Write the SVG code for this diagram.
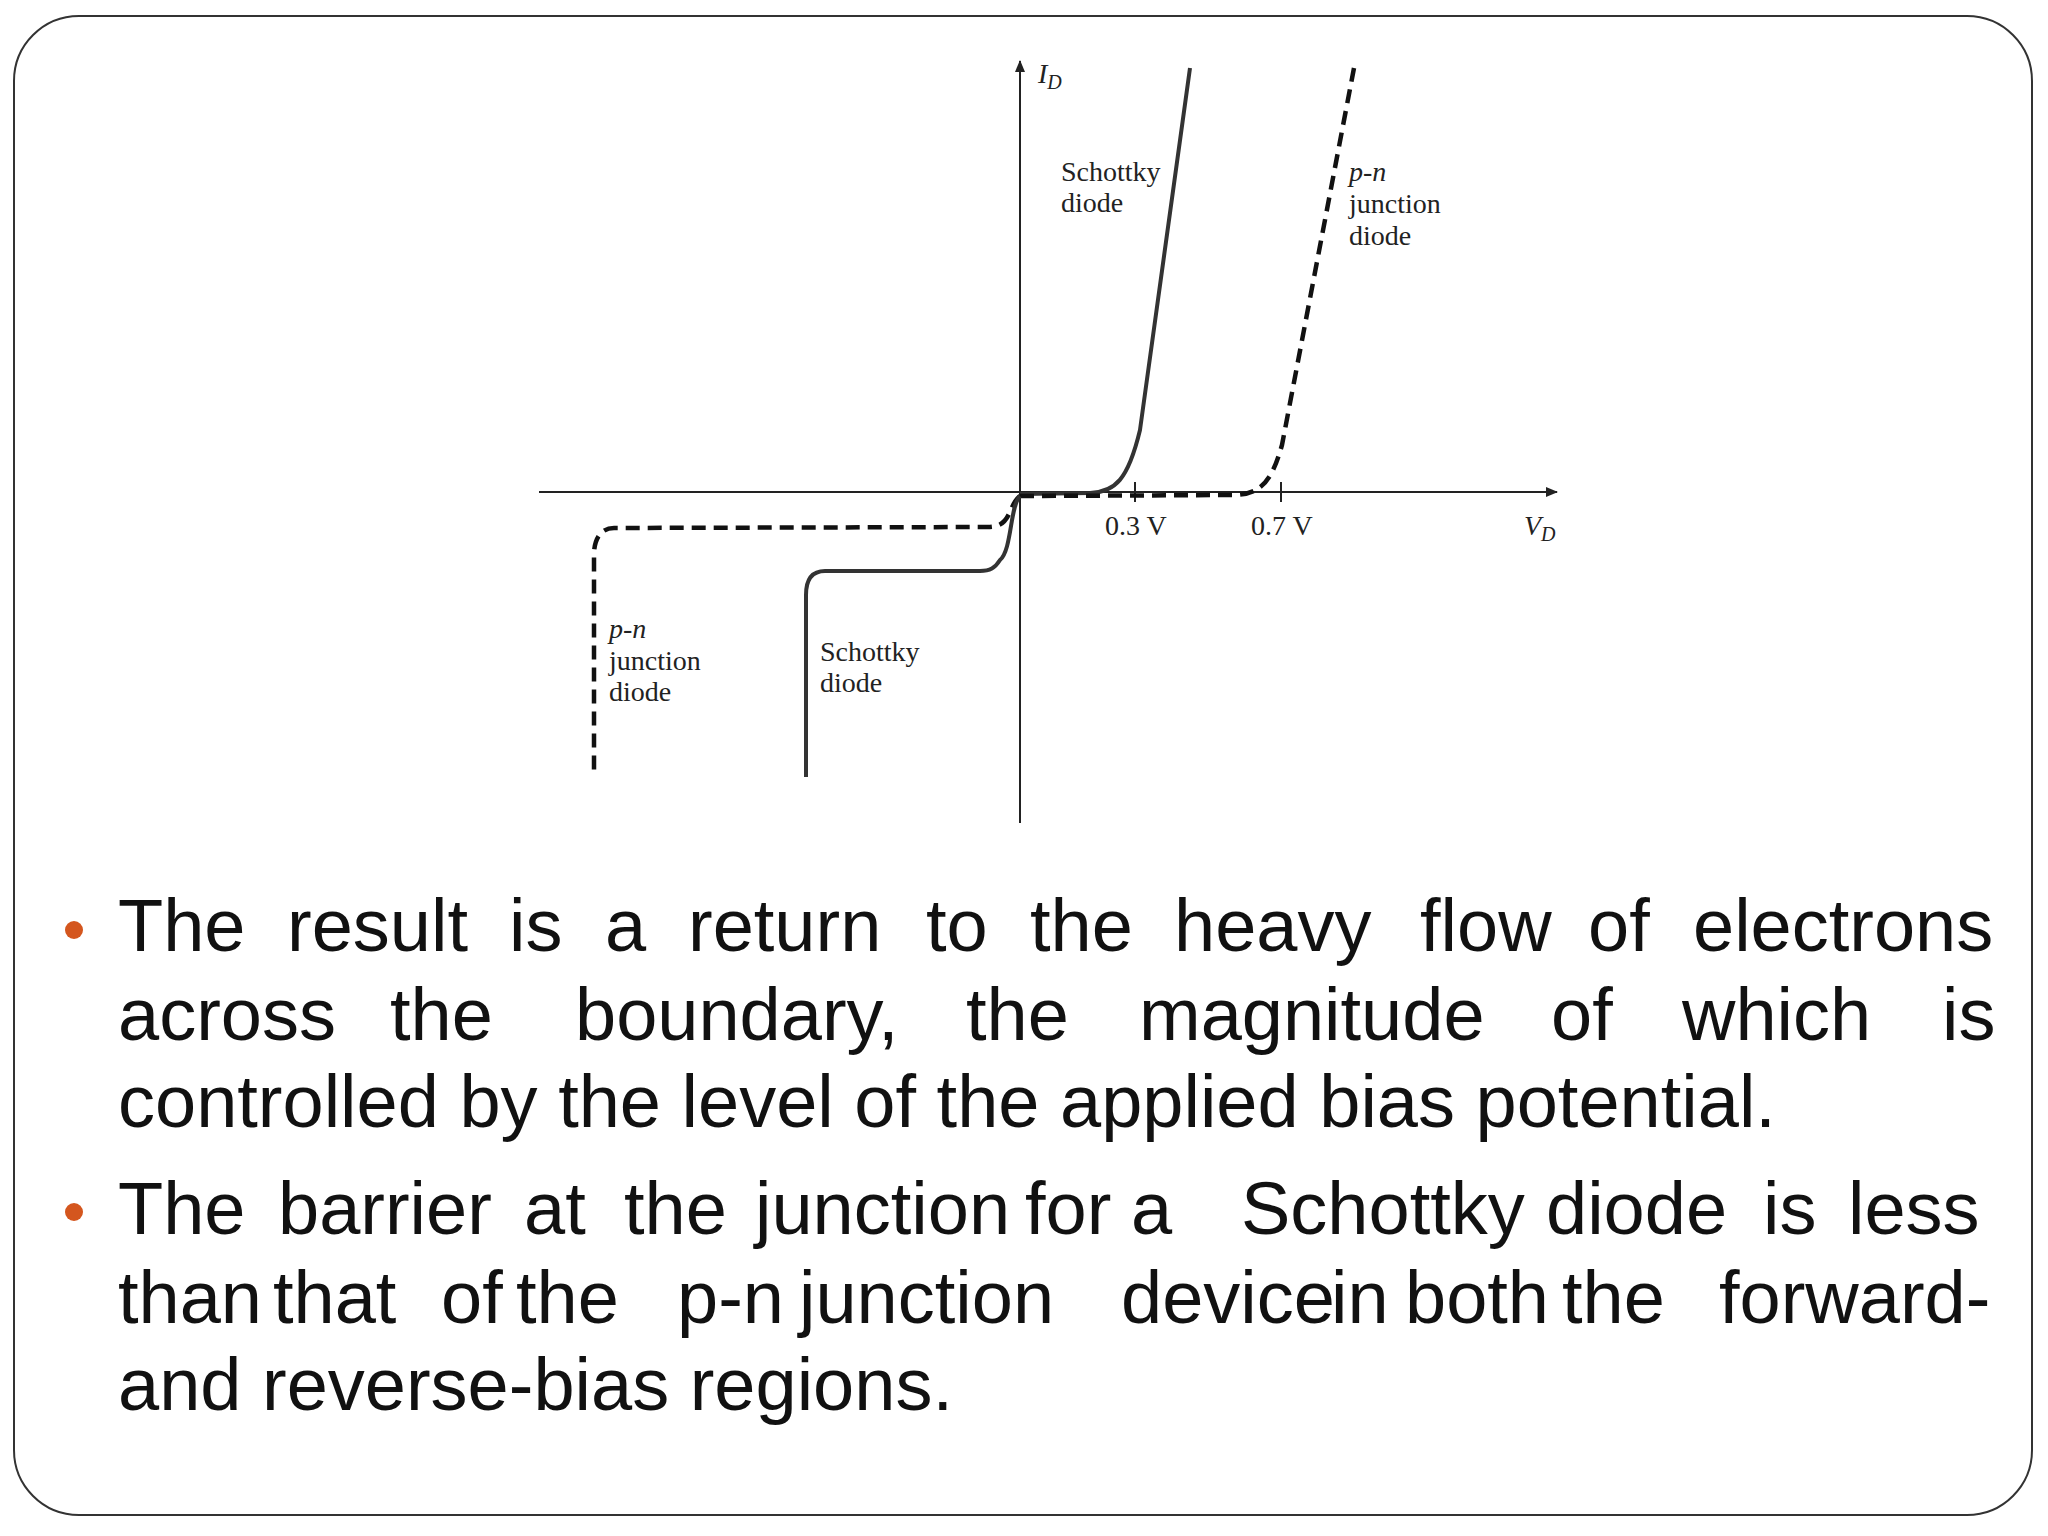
<svg xmlns="http://www.w3.org/2000/svg" width="2048" height="1536" viewBox="0 0 2048 1536">
<style>
.ax{stroke:#222;stroke-width:2;fill:none}
.cv{stroke:#333;stroke-width:4;fill:none}
.dc{stroke:#111;stroke-width:4.5;fill:none;stroke-dasharray:14 8}
.lb{font-family:"Liberation Serif",serif;font-size:28px;fill:#222}
.it{font-style:italic}
.bt{font-family:"Liberation Sans",Arial,sans-serif;font-size:74px;fill:#111}
</style>
<defs><marker id="ar" markerWidth="12" markerHeight="10" refX="11" refY="5" orient="auto" markerUnits="userSpaceOnUse"><path d="M0,0L12,5L0,10Z" fill="#222"/></marker></defs>
<rect x="14" y="16" width="2018" height="1499" rx="65" fill="#fff" stroke="#333" stroke-width="2"/>
<g id="axes">
<line class="ax" x1="1020" y1="823" x2="1020" y2="61" marker-end="url(#ar)"/>
<line class="ax" x1="539" y1="492" x2="1557" y2="492" marker-end="url(#ar)"/>
<line class="ax" x1="1135" y1="482" x2="1135" y2="502"/>
<line class="ax" x1="1281" y1="482" x2="1281" y2="502"/>
<text class="lb it" x="1038" y="83">I<tspan font-size="20" dy="6">D</tspan></text>
<text class="lb it" x="1524" y="535">V<tspan font-size="20" dy="6">D</tspan></text>
<text class="lb" x="1105" y="535">0.3 V</text>
<text class="lb" x="1251" y="535">0.7 V</text>
</g>
<g id="curves">
<path class="cv" d="M1020,494 L1090,493 C1115,492 1128,480 1140,430 L1190,68"/>
<path class="dc" d="M1020,496 L1235,495 C1262,494 1272,480 1282,445 L1354,68"/>
<path class="dc" d="M1020,496 C1008,505 1012,526 990,527 L614,528 C600,528 594,540 594,555 L594,777"/>
<path class="cv" d="M1020,496 C1010,505 1012,550 1000,560 C995,568 990,571 980,571 L825,571 C812,571 806,580 806,595 L806,777"/>
</g>
<g id="labels">
<text class="lb" x="1061" y="181">Schottky</text><text class="lb" x="1061" y="212">diode</text>
<text class="lb it" x="1349" y="181">p-n</text><text class="lb" x="1349" y="213">junction</text><text class="lb" x="1349" y="245">diode</text>
<text class="lb it" x="609" y="638">p-n</text><text class="lb" x="609" y="670">junction</text><text class="lb" x="609" y="701">diode</text>
<text class="lb" x="820" y="661">Schottky</text><text class="lb" x="820" y="692">diode</text>
</g>
<g id="bullets">
<circle cx="74" cy="930" r="9" fill="#d4561e"/>
<circle cx="74" cy="1212" r="9" fill="#d4561e"/>
<text class="bt" y="951"><tspan x="118">The</tspan><tspan x="287">result</tspan><tspan x="509">is</tspan><tspan x="605">a</tspan><tspan x="688">return</tspan><tspan x="926">to</tspan><tspan x="1030">the</tspan><tspan x="1174">heavy</tspan><tspan x="1420">flow</tspan><tspan x="1588">of</tspan><tspan x="1693">electrons</tspan></text>
<text class="bt" y="1040"><tspan x="118">across</tspan><tspan x="390">the</tspan><tspan x="575">boundary,</tspan><tspan x="966">the</tspan><tspan x="1139">magnitude</tspan><tspan x="1551">of</tspan><tspan x="1682">which</tspan><tspan x="1942">is</tspan></text>
<text class="bt" x="118" y="1127">controlled by the level of the applied bias potential.</text>
<text class="bt" y="1234"><tspan x="118">The</tspan><tspan x="278">barrier</tspan><tspan x="524">at</tspan><tspan x="624">the</tspan><tspan x="755">junction</tspan><tspan x="1025">for</tspan><tspan x="1131">a</tspan><tspan x="1241">Schottky</tspan><tspan x="1546">diode</tspan><tspan x="1763">is</tspan><tspan x="1848">less</tspan></text>
<text class="bt" y="1323"><tspan x="118">than</tspan><tspan x="273">that</tspan><tspan x="441">of</tspan><tspan x="516">the</tspan><tspan x="677">p-n</tspan><tspan x="799">junction</tspan><tspan x="1121">device</tspan><tspan x="1331">in</tspan><tspan x="1405">both</tspan><tspan x="1562">the</tspan><tspan x="1719">forward-</tspan></text>
<text class="bt" x="118" y="1410">and reverse-bias regions.</text>
</g>
</svg>
